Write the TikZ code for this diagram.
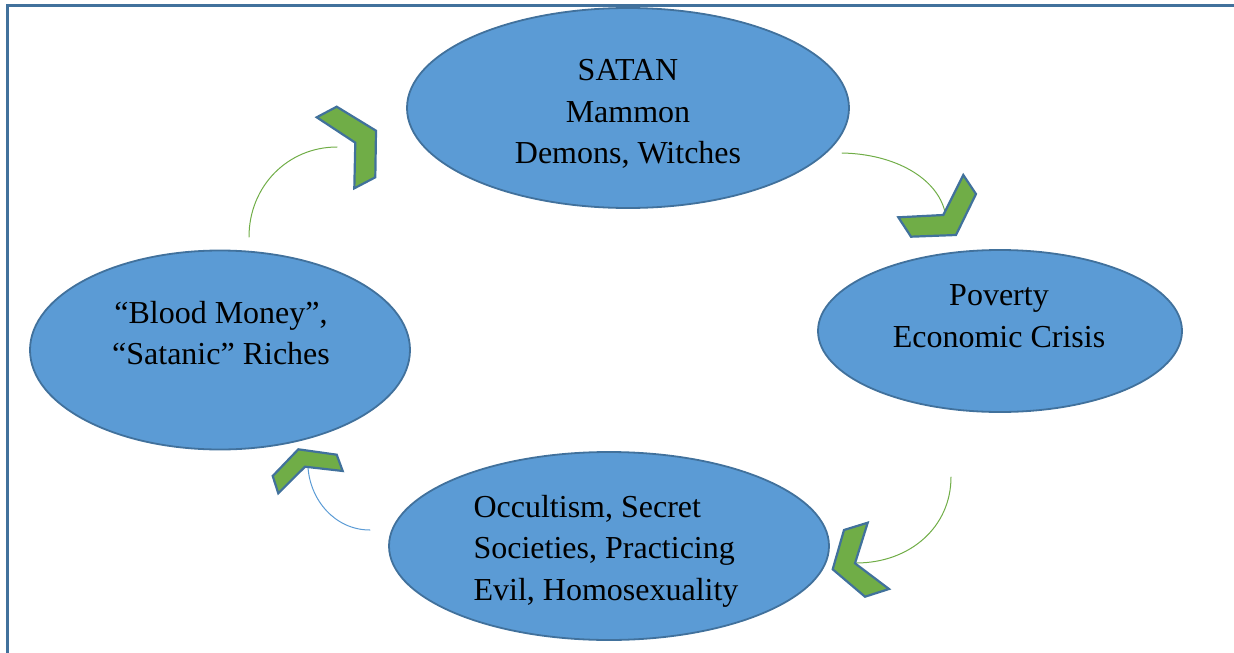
\documentclass[tikz,border=0pt]{standalone}
\usepackage{fontspec}
\setmainfont{Liberation Serif}
\usetikzlibrary{shapes.geometric}
\definecolor{ovalblue}{RGB}{91,155,213}
\definecolor{edgeblue}{RGB}{65,113,156}
\definecolor{leafgreen}{RGB}{112,173,71}

\begin{document}
\begin{tikzpicture}[x=1pt,y=-1pt,line cap=round,line join=round,
    oval/.style={ellipse,draw=edgeblue,line width=1.8pt,fill=ovalblue,inner sep=0pt},
    chev/.style={draw=edgeblue,line width=2.2pt,fill=leafgreen,line join=miter},
    link/.style={line width=1pt,color=leafgreen},
    txt/.style={font=\fontsize{32}{41.5}\selectfont,align=center,text=black}]
    \useasboundingbox (0,0) rectangle (1234,653);
    % frame
    \draw[edgeblue,line width=3pt,line join=miter,line cap=butt] (1234,5) -- (7,5) -- (7,653);

    % the four ovals
    \node[oval,minimum width=442pt,minimum height=200pt] (satan) at (628,108) {};
    \node[oval,minimum width=364pt,minimum height=162pt] (poverty) at (1000,331) {};
    \node[oval,minimum width=440pt,minimum height=188pt] (occult) at (609,546) {};
    \node[oval,minimum width=380pt,minimum height=199pt] (blood) at (220,350) {};

    \node[txt] (satantxt) at (628,114) {SATAN\\Mammon\\Demons, Witches};
    \node[txt] (povertytxt) at (999,316) {Poverty\\Economic Crisis};
    \node[txt,align=left] (occulttxt) at (606,551) {Occultism, Secret\\Societies, Practicing\\Evil, Homosexuality};
    \node[txt] (bloodtxt) at (221,333) {“Blood Money”,\\“Satanic” Riches};

    % curved links
    \coordinate (tlA) at (249,237);
    \coordinate (tlB) at (337,147);
    \coordinate (trA) at (842,153);
    \coordinate (trB) at (945,212);
    \coordinate (brA) at (951,477);
    \coordinate (brB) at (856,563);
    \coordinate (blA) at (370,530);
    \coordinate (blB) at (308,467);
    \draw[link] (tlA) .. controls (249,186) and (288,147) .. (tlB);
    \draw[link] (trA) .. controls (895,154) and (937,178) .. (trB);
    \draw[link] (brA) .. controls (951,527) and (910,563) .. (brB);
    \draw[link,color=ovalblue] (blA) .. controls (335,530) and (310,500) .. (blB);

    % chevrons
    \draw[chev] (316.7,117.3) -- (336.7,106.7) -- (376,130.7) -- (375.3,177.3) -- (354.3,188.3) -- (355.3,142.7) -- cycle;
    \draw[chev] (898.3,217.3) -- (943.3,215) -- (963.3,175) -- (976,194) -- (956,235) -- (911,236.7) -- cycle;
    \draw[chev] (844,530) -- (867.7,522.7) -- (855,563.3) -- (889,589) -- (865,596.7) -- (832.7,569.3) -- cycle;
    \draw[chev] (272.7,476) -- (298.3,449.3) -- (336.7,454.7) -- (342.7,471) -- (305,466.7) -- (278.3,493.3) -- cycle;
\end{tikzpicture}
\end{document}
